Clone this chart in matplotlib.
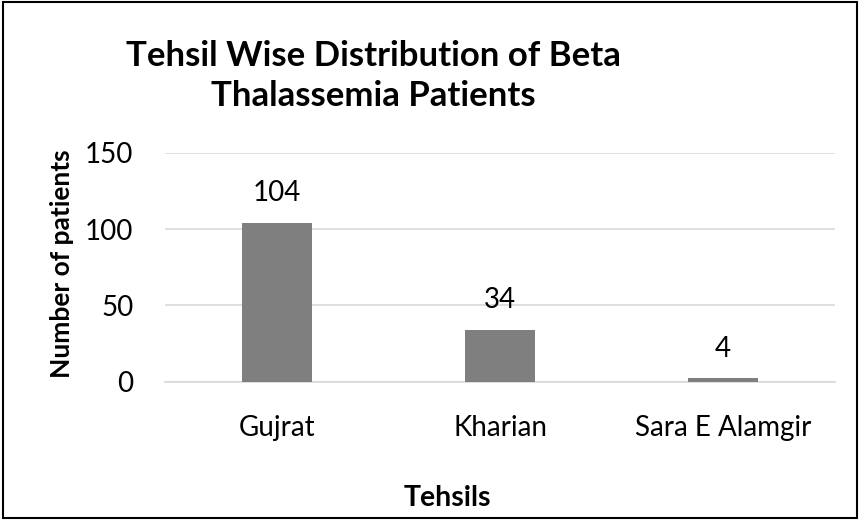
import matplotlib
matplotlib.use("Agg")
import matplotlib.pyplot as plt
from matplotlib.patches import Rectangle

categories = ["Gujrat", "Kharian", "Sara E Alamgir"]
bar_values = [104, 34, 2.2]
value_labels = ["104", "34", "4"]
yticks = [0, 50, 100, 150]

plt.rcParams['font.family'] = ['Lato', 'DejaVu Sans']

fig = plt.figure(figsize=(8.6, 5.2), dpi=100)
ax = fig.add_axes([0.1924, 0.266, 0.778, 0.440])

x = list(range(len(categories)))
ax.bar(x, bar_values, width=0.314, color="#7f7f7f", zorder=3)
for xi, v, lab in zip(x, bar_values, value_labels):
    ax.annotate(lab, (xi, v), xytext=(0, 12), textcoords="offset points",
                ha="center", va="bottom", fontsize=20, color="#000000")

ax.set_xlim(-0.5, 2.5)
ax.set_ylim(0, 150)
ax.set_yticks(yticks)
ax.set_yticklabels([str(t) for t in yticks], fontsize=20)
ax.set_xticks(x)
ax.set_xticklabels(categories, fontsize=20)
ax.tick_params(axis="x", length=0, pad=24)
ax.tick_params(axis="y", length=0, pad=23)
ax.grid(axis="y", color="#d9d9d9", linewidth=1.2, zorder=0)
for s in ["top", "right", "left"]:
    ax.spines[s].set_visible(False)
ax.spines["bottom"].set_color("#d9d9d9")
ax.spines["bottom"].set_linewidth(1.2)

fig.text(62 / 860, 1 - 264 / 520, "Number of patients", rotation=90, ha="center", va="center",
         fontsize=19, fontweight="bold")
fig.text(447 / 860, 1 - 498 / 520, "Tehsils", ha="center", va="center",
         fontsize=20.5, fontweight="bold")
fig.text(373 / 860, 1 - 76 / 520, "Tehsil Wise Distribution of Beta\nThalassemia Patients",
         ha="center", va="center", fontsize=25, fontweight="bold", linespacing=1.3)

fig.patches.append(Rectangle((0.003, 0.003), 0.994, 0.994, transform=fig.transFigure,
                             fill=False, edgecolor="black", linewidth=1.5))

fig.savefig("out.png", dpi=100)
